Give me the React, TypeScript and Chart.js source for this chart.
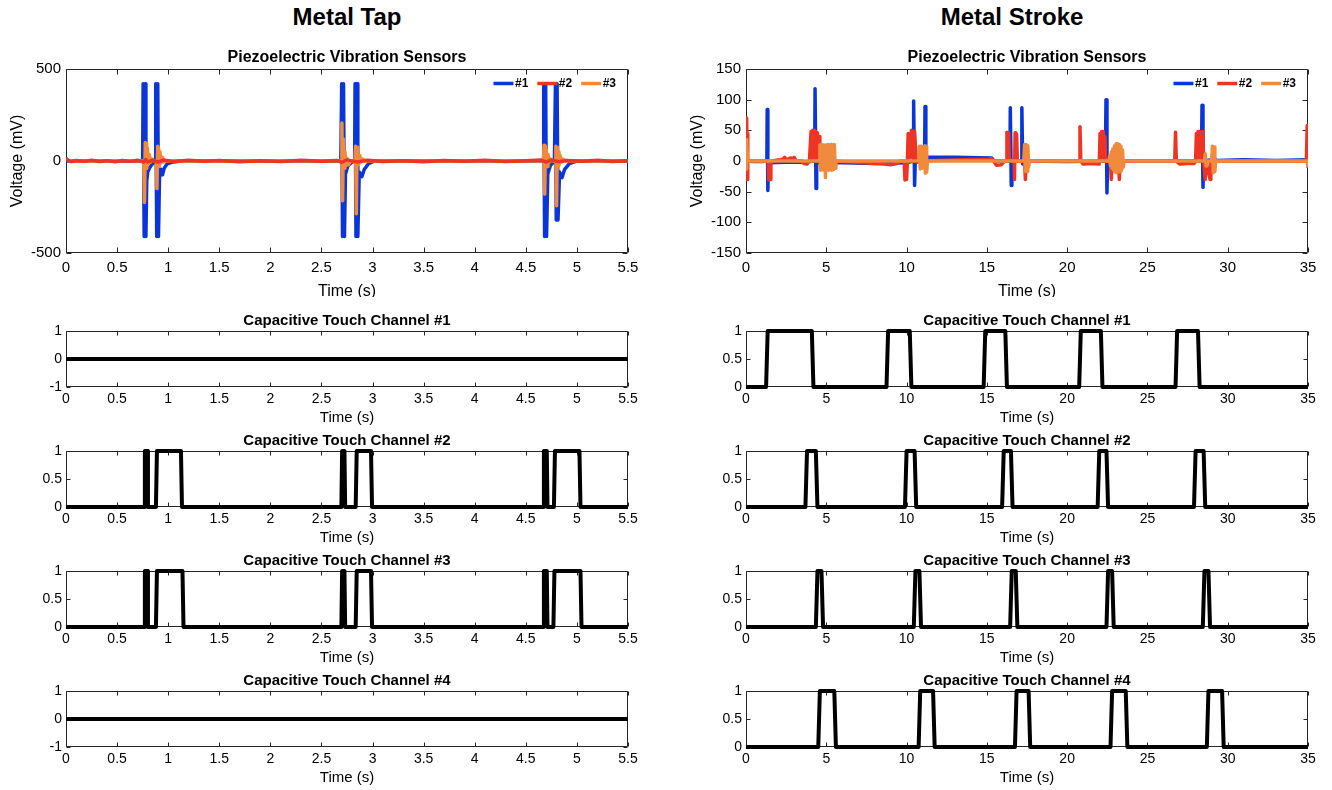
import React, { useEffect, useRef } from "react";
import { Chart, registerables } from "chart.js";

Chart.register(...registerables);

type Pt = [number, number];

const FAMILY = "'Liberation Sans', Arial, Helvetica, sans-serif";
const BLUE = "#0a36d8";
const RED = "#ee3424";
const ORANGE = "#f08a3c";
const BLACK = "#000000";

// ---------- tick labels ----------
const TAP_X_TICKS = [0, 0.5, 1, 1.5, 2, 2.5, 3, 3.5, 4, 4.5, 5, 5.5];
const STROKE_X_TICKS = [0, 5, 10, 15, 20, 25, 30, 35];
const TAP_PIEZO_Y_TICKS = [-500, 0, 500];
const STROKE_PIEZO_Y_TICKS = [-150, -100, -50, 0, 50, 100, 150];
const CAP_Y_TICKS_ACTIVE = [0, 0.5, 1];
const CAP_Y_TICKS_IDLE = [-1, 0, 1];

const SENSOR_LABELS = ["#1", "#2", "#3"];
const COLUMN_TITLES = ["Metal Tap", "Metal Stroke"];
const CAP_TITLES = [
  "Capacitive Touch Channel #1",
  "Capacitive Touch Channel #2",
  "Capacitive Touch Channel #3",
  "Capacitive Touch Channel #4",
];

// ---------- Metal Tap : piezo sensors (time s, mV) ----------
const TAP_PIEZO_1: Pt[] = [
  [0, 0], [0.3, 1], [0.6, -1], [0.75, 0], [0.755, 420], [0.765, -410], [0.775, 420], [0.782, -410],
  [0.79, -110], [0.8, -60], [0.82, -35], [0.85, -12], [0.875, 0], [0.878, 420], [0.888, -410],
  [0.898, 420], [0.905, -410], [0.915, -90], [0.93, -45], [0.945, -75], [0.96, -40], [0.99, -15],
  [1.05, -5], [1.12, 0], [1.5, 1], [2.0, -1], [2.69, 0], [2.698, 420], [2.706, -410], [2.716, 420],
  [2.725, -410], [2.735, -70], [2.76, -25], [2.8, -5], [2.825, 0], [2.829, 420], [2.838, -410],
  [2.848, 420], [2.856, -410], [2.87, -60], [2.895, -85], [2.92, -45], [2.96, -15], [3.02, 0],
  [3.5, 1], [4.0, -1], [4.67, 0], [4.675, 420], [4.684, -410], [4.694, 420], [4.703, -410],
  [4.715, -70], [4.74, -25], [4.78, 0], [4.79, 420], [4.798, -320], [4.806, 420], [4.815, -320],
  [4.83, -60], [4.855, -90], [4.88, -45], [4.93, -12], [5.0, 0], [5.5, 0],
];
const TAP_PIEZO_2: Pt[] = [
  [0, 14], [0.02, 4], [0.05, -3], [0.1, 3], [0.18, -2], [0.25, 4], [0.33, -3], [0.4, 2], [0.48, -4],
  [0.55, 3], [0.63, -2], [0.7, 4], [0.76, -6], [0.78, 8], [0.8, -5], [0.85, 4], [0.9, -6], [0.95, 5],
  [1.05, -3], [1.2, 4], [1.35, -2], [1.5, 3], [1.7, -4], [1.9, 2], [2.1, -3], [2.3, 4], [2.5, -2],
  [2.65, 3], [2.7, -7], [2.75, 6], [2.85, -5], [2.95, 4], [3.1, -3], [3.3, 2], [3.5, -4], [3.7, 3],
  [3.9, -2], [4.1, 4], [4.3, -3], [4.5, 2], [4.65, 5], [4.7, -6], [4.75, 6], [4.82, -4], [4.9, 3],
  [5.05, -2], [5.2, 4], [5.35, -3], [5.5, 2],
];
const TAP_PIEZO_3: Pt[] = [
  [0, 12], [0.03, 3], [0.1, 0], [0.5, 1], [0.76, 0], [0.768, -225], [0.776, 100], [0.784, 95],
  [0.79, -40], [0.797, 70], [0.805, -15], [0.815, 35], [0.83, -5], [0.845, 10], [0.86, 0],
  [0.885, 0], [0.89, -150], [0.897, 80], [0.905, 70], [0.912, -30], [0.92, 50], [0.93, -10],
  [0.945, 20], [0.96, -5], [0.98, 0], [2.0, 0], [2.693, 0], [2.7, 206], [2.707, -216], [2.714, 120],
  [2.722, -40], [2.73, 50], [2.74, -25], [2.75, 15], [2.765, -20], [2.78, -5], [2.8, 0], [2.828, 0],
  [2.834, 80], [2.841, -287], [2.848, 75], [2.856, 40], [2.864, -20], [2.875, 30], [2.89, -5],
  [2.905, 10], [2.93, 0], [4.0, 0], [4.672, 0], [4.678, 85], [4.685, -180], [4.692, 80], [4.7, 55],
  [4.708, -30], [4.717, 35], [4.73, -5], [4.745, 10], [4.76, 0], [4.788, 0], [4.794, 80],
  [4.801, -243], [4.808, 75], [4.816, 50], [4.824, -25], [4.835, 30], [4.85, -5], [4.865, 10],
  [4.89, 0], [5.5, 0],
];

// ---------- Metal Stroke : piezo sensors (time s, mV) ----------
const STROKE_PIEZO_1: Pt[] = [
  [0, 0], [0.5, -1], [1.0, -1], [1.3, 0], [1.32, 84], [1.36, -48], [1.4, -3], [2.5, -2], [3.5, -2],
  [4.28, 0], [4.3, 118], [4.36, -45], [4.4, -3], [6, -3], [8, -4], [10.0, -3], [10.42, 0],
  [10.44, 98], [10.5, -40], [10.54, -2], [11.12, 0], [11.15, 89], [11.2, 0], [11.26, 6], [13, 6],
  [15.3, 5], [15.45, 0], [16.44, 0], [16.46, 87], [16.52, -40], [16.56, 0], [17.15, 0], [17.18, 87],
  [17.23, -5], [17.3, 0], [20, -1], [22.38, 0], [22.42, 100], [22.48, -52], [22.52, 0], [26, 0],
  [28.36, 0], [28.4, 91], [28.46, -43], [28.5, 0], [29.2, 3], [29.3, 1], [31, 2], [33, 1], [35, 2],
];
const STROKE_PIEZO_2: Pt[] = [
  [0, 20], [0.02, 70], [0.04, -30], [0.06, 68], [0.08, -30], [0.1, 45], [0.12, 0], [1.2, 0],
  [1.38, 0], [1.42, -31], [1.46, -5], [1.5, -30], [1.55, -2], [1.6, 0], [2.3, 3], [2.4, 6],
  [2.5, 2], [2.8, 5], [2.9, 0], [3.0, 6], [3.1, 1], [3.5, 0], [3.6, -4], [3.8, -5], [3.95, 0],
  [4.05, 48], [4.1, 2], [4.15, 50], [4.2, 5], [4.25, 50], [4.3, 3], [4.35, 48], [4.4, 5],
  [4.45, 46], [4.5, 0], [4.55, 40], [4.6, 0], [5.5, 0], [8.6, -5], [9.0, -6], [9.4, -4], [9.6, 0],
  [9.85, 0], [9.9, -31], [9.95, -5], [10.0, -30], [10.05, 0], [10.1, 45], [10.2, 5], [10.3, 50],
  [10.4, 5], [10.5, 48], [10.6, 2], [10.7, 0], [14.8, 3], [15.0, 2], [15.3, 4], [15.6, -7],
  [15.9, -6], [16.1, 0], [16.2, 0], [16.25, 47], [16.3, 5], [16.35, 46], [16.4, 2], [16.7, 0],
  [16.72, -30], [16.76, 46], [16.8, 5], [16.85, 44], [16.9, 0], [17.35, 0], [17.4, -30], [17.45, 0],
  [20.75, 0], [20.8, 56], [20.85, 0], [21.0, -5], [21.5, -4], [22.0, -5], [22.05, 45], [22.1, 5],
  [22.15, 48], [22.2, 3], [22.25, 48], [22.3, 2], [22.35, 40], [22.4, 0], [22.7, 0], [22.75, -30],
  [22.8, 0], [23.2, 0], [23.25, -30], [23.3, 0], [26.7, 0], [26.75, 47], [26.8, 0], [27.0, -5],
  [27.5, -4], [27.9, -4], [28.0, 0], [28.05, 45], [28.1, 3], [28.15, 48], [28.2, 5], [28.25, 48],
  [28.3, 3], [28.35, 45], [28.4, 2], [28.45, 48], [28.5, 0], [28.6, -30], [28.65, 0], [28.9, -30],
  [28.95, 0], [34.9, 0], [34.95, 58], [35, -11],
];
const STROKE_PIEZO_3: Pt[] = [
  [0, 35], [0.03, -13], [0.06, 30], [0.1, 0], [4.55, 0], [4.6, 26], [4.65, -15], [4.7, 27],
  [4.75, -14], [4.8, 26], [4.85, -15], [4.9, 25], [4.95, -27], [5.0, 26], [5.05, -14], [5.1, 27],
  [5.15, -15], [5.2, 26], [5.25, -14], [5.3, 27], [5.35, -15], [5.4, 26], [5.45, -14], [5.5, 27],
  [5.55, -12], [5.6, 0], [10.75, 0], [10.8, 24], [10.85, -13], [10.9, 24], [10.95, -12], [11.0, 0],
  [11.1, 0], [11.13, 25], [11.17, -20], [11.21, 24], [11.25, -18], [11.3, 0], [17.3, 0], [17.35, 27],
  [17.4, -17], [17.45, 27], [17.5, -17], [17.55, 25], [17.6, -10], [17.65, 0], [22.6, 0], [22.65, 8],
  [22.7, -8], [22.75, 15], [22.8, -12], [22.85, 20], [22.9, -15], [22.95, 25], [23.0, -18],
  [23.05, 28], [23.1, -19], [23.15, 28], [23.2, -18], [23.25, 27], [23.3, -17], [23.35, 24],
  [23.4, -14], [23.45, 18], [23.5, -10], [23.55, 0], [28.55, 0], [28.6, 12], [28.65, -8], [28.7, 0],
  [29.0, 0], [29.05, 24], [29.1, -19], [29.15, 23], [29.2, -17], [29.25, 0], [34.95, 0], [35, -10],
];

// ---------- Capacitive touch channels (time s, state) ----------
const TAP_CAP_1: Pt[] = [[0, 0], [5.5, 0]];
const TAP_CAP_2: Pt[] = [
  [0, 0], [0.765, 0], [0.772, 1], [0.795, 1], [0.802, 0], [0.88, 0], [0.89, 1], [1.125, 1],
  [1.135, 0], [2.695, 0], [2.702, 1], [2.725, 1], [2.732, 0], [2.835, 0], [2.845, 1], [2.985, 1],
  [2.995, 0], [4.67, 0], [4.677, 1], [4.705, 1], [4.712, 0], [4.775, 0], [4.785, 1], [5.025, 1],
  [5.035, 0], [5.5, 0],
];
const TAP_CAP_3: Pt[] = [
  [0, 0], [0.765, 0], [0.772, 1], [0.795, 1], [0.802, 0], [0.88, 0], [0.89, 1], [1.14, 1],
  [1.15, 0], [2.695, 0], [2.702, 1], [2.725, 1], [2.732, 0], [2.835, 0], [2.845, 1], [2.985, 1],
  [2.995, 0], [4.67, 0], [4.677, 1], [4.705, 1], [4.712, 0], [4.77, 0], [4.78, 1], [5.035, 1],
  [5.045, 0], [5.5, 0],
];
const TAP_CAP_4: Pt[] = [[0, 0], [5.5, 0]];

const STROKE_CAP_1: Pt[] = [
  [0, 0], [1.25, 0], [1.35, 1], [4.1, 1], [4.2, 0], [8.75, 0], [8.85, 1], [10.2, 1], [10.3, 0],
  [14.8, 0], [14.9, 1], [16.15, 1], [16.25, 0], [20.75, 0], [20.85, 1], [22.1, 1], [22.2, 0],
  [26.75, 0], [26.85, 1], [28.15, 1], [28.25, 0], [35, 0],
];
const STROKE_CAP_2: Pt[] = [
  [0, 0], [3.7, 0], [3.8, 1], [4.35, 1], [4.45, 0], [9.9, 0], [10.0, 1], [10.5, 1], [10.6, 0],
  [15.95, 0], [16.05, 1], [16.5, 1], [16.6, 0], [21.9, 0], [22.0, 1], [22.45, 1], [22.55, 0],
  [27.9, 0], [28.0, 1], [28.5, 1], [28.6, 0], [35, 0],
];
const STROKE_CAP_3: Pt[] = [
  [0, 0], [4.35, 0], [4.45, 1], [4.7, 1], [4.8, 0], [10.45, 0], [10.55, 1], [10.8, 1], [10.9, 0],
  [16.45, 0], [16.55, 1], [16.8, 1], [16.9, 0], [22.45, 0], [22.55, 1], [22.8, 1], [22.9, 0],
  [28.45, 0], [28.55, 1], [28.8, 1], [28.9, 0], [35, 0],
];
const STROKE_CAP_4: Pt[] = [
  [0, 0], [4.5, 0], [4.6, 1], [5.5, 1], [5.6, 0], [10.75, 0], [10.85, 1], [11.65, 1], [11.75, 0],
  [16.75, 0], [16.85, 1], [17.6, 1], [17.7, 0], [22.7, 0], [22.8, 1], [23.65, 1], [23.75, 0],
  [28.7, 0], [28.8, 1], [29.65, 1], [29.75, 0], [35, 0],
];

// ---------- plugin: MATLAB-like box with inward ticks ----------
const boxTicks = {
  id: "boxTicks",
  beforeDatasetsDraw(chart: any, _args: any, opts: any) {
    const { ctx, chartArea: a, scales } = chart;
    const len = opts.len || 5;
    const L = Math.round(a.left) + 0.5;
    const R = Math.round(a.right) - 0.5;
    const T = Math.round(a.top) + 0.5;
    const B = Math.round(a.bottom) - 0.5;
    ctx.save();
    ctx.strokeStyle = "#262626";
    ctx.lineWidth = 1;
    ctx.beginPath();
    for (const t of scales.x.ticks) {
      const px = Math.round(scales.x.getPixelForValue(t.value)) + 0.5;
      ctx.moveTo(px, B);
      ctx.lineTo(px, B - len);
      ctx.moveTo(px, T);
      ctx.lineTo(px, T + len);
    }
    for (const t of scales.y.ticks) {
      const py = Math.round(scales.y.getPixelForValue(t.value)) + 0.5;
      ctx.moveTo(L, py);
      ctx.lineTo(L + len, py);
      ctx.moveTo(R, py);
      ctx.lineTo(R - len, py);
    }
    ctx.rect(L, T, R - L, B - T);
    ctx.stroke();
    ctx.restore();
  },
};

// ---------- plugin: legend drawn inside the top-right corner ----------
const insideLegend = {
  id: "insideLegend",
  afterDatasetsDraw(chart: any, _args: any, opts: any) {
    if (!opts || !opts.show) return;
    const { ctx, chartArea: a } = chart;
    const ds = chart.data.datasets;
    ctx.save();
    ctx.font = `bold 12px ${FAMILY}`;
    ctx.textBaseline = "middle";
    ctx.textAlign = "left";
    const y = a.top + 14.5;
    let x = a.right - 12;
    for (let i = ds.length - 1; i >= 0; i--) {
      const label = String(ds[i].label);
      const tw = ctx.measureText(label).width;
      x -= tw;
      ctx.fillStyle = BLACK;
      ctx.fillText(label, x, y);
      x -= 1.5;
      ctx.strokeStyle = ds[i].borderColor;
      ctx.lineWidth = 3.5;
      ctx.lineCap = "butt";
      ctx.beginPath();
      ctx.moveTo(x - 20, y);
      ctx.lineTo(x, y);
      ctx.stroke();
      x -= 20 + 9;
    }
    ctx.restore();
  },
};

type Series = { label: string; data: Pt[]; color: string; width: number; order: number; clip?: number };
type FontSpec = { size: number; weight?: string };

interface PanelCfg {
  key: string;
  plotLeft: number; plotRight: number; plotTop: number; plotBottom: number;
  canvasLeft: number; canvasTop: number; canvasBottom: number; padRight: number;
  title: string; titleFont: FontSpec; titleCenterY: number;
  xMin: number; xMax: number; xTicks: number[];
  yMin: number; yMax: number; yTicks: number[];
  tickFont: FontSpec; xLabelCenterY: number; yLabelPad: number; tickLen: number;
  xTitle: string; xTitleFont: FontSpec; xTitleCenterY: number;
  yTitle?: string; yTitleFont?: FontSpec; yTitleCenterX?: number;
  series: Series[];
  legend: boolean;
}

const f = (s: FontSpec) => ({ family: FAMILY, size: s.size, weight: s.weight || "normal", lineHeight: 1.2 });

function buildConfig(p: PanelCfg): any {
  const YW = p.plotLeft - p.canvasLeft;
  const XH = p.canvasBottom - p.plotBottom;
  const tlh = p.titleFont.size * 1.2;
  const titlePadTop = p.titleCenterY - tlh / 2 - p.canvasTop;
  const titlePadBottom = p.plotTop - p.titleCenterY - tlh / 2;
  const xlh = p.xTitleFont.size * 1.2;
  const xTitlePadBottom = p.canvasBottom - p.xTitleCenterY - xlh / 2;
  const tickLh = p.tickFont.size * 1.2;
  const xLabelPad = p.xLabelCenterY - p.plotBottom - tickLh / 2;
  let yTitle: any = { display: false };
  if (p.yTitle && p.yTitleFont && p.yTitleCenterX !== undefined) {
    const ylh = p.yTitleFont.size * 1.2;
    yTitle = {
      display: true,
      text: p.yTitle,
      color: BLACK,
      font: f(p.yTitleFont),
      padding: { top: p.yTitleCenterX - p.canvasLeft - ylh / 2, bottom: 0 },
    };
  }
  return {
    type: "line",
    data: {
      datasets: p.series.map((s) => {
        const d: any = {
          label: s.label,
          data: s.data.map(([x, y]) => ({ x, y })),
          borderColor: s.color,
          backgroundColor: s.color,
          borderWidth: s.width,
          borderJoinStyle: "round",
          pointRadius: 0,
          pointHoverRadius: 0,
          tension: 0,
          order: s.order,
        };
        if (s.clip !== undefined) d.clip = s.clip;
        return d;
      }),
    },
    options: {
      responsive: false,
      animation: false,
      events: [],
      layout: { padding: { left: 0, top: 0, right: p.padRight, bottom: 0 } },
      plugins: {
        title: {
          display: true,
          text: p.title,
          fullSize: false,
          color: BLACK,
          font: f(p.titleFont),
          padding: { top: titlePadTop, bottom: titlePadBottom },
        },
        legend: { display: false },
        tooltip: { enabled: false },
        boxTicks: { len: p.tickLen },
        insideLegend: { show: p.legend },
      },
      scales: {
        x: {
          type: "linear",
          bounds: "data",
          min: p.xMin,
          max: p.xMax,
          afterBuildTicks: (s: any) => {
            s.ticks = p.xTicks.map((v) => ({ value: v }));
          },
          afterFit: (s: any) => {
            s.height = XH;
          },
          grid: { display: false, drawTicks: false },
          border: { display: false },
          ticks: {
            autoSkip: false,
            maxRotation: 0,
            minRotation: 0,
            padding: xLabelPad,
            color: BLACK,
            font: f(p.tickFont),
            callback: (v: number) => String(v),
          },
          title: {
            display: true,
            text: p.xTitle,
            color: BLACK,
            font: f(p.xTitleFont),
            padding: { top: 0, bottom: xTitlePadBottom },
          },
        },
        y: {
          type: "linear",
          bounds: "data",
          min: p.yMin,
          max: p.yMax,
          afterBuildTicks: (s: any) => {
            s.ticks = p.yTicks.map((v) => ({ value: v }));
          },
          afterFit: (s: any) => {
            s.width = YW;
          },
          grid: { display: false, drawTicks: false },
          border: { display: false },
          ticks: {
            autoSkip: false,
            padding: p.yLabelPad,
            color: BLACK,
            font: f(p.tickFont),
            callback: (v: number) => String(v),
          },
          title: yTitle,
        },
      },
    },
    plugins: [boxTicks, insideLegend],
  };
}

function Panel({ cfg }: { cfg: PanelCfg }) {
  const ref = useRef<HTMLCanvasElement>(null);
  const W = cfg.plotRight + cfg.padRight - cfg.canvasLeft;
  const H = cfg.canvasBottom - cfg.canvasTop;
  useEffect(() => {
    if (!ref.current) return;
    const chart = new Chart(ref.current, buildConfig(cfg));
    return () => chart.destroy();
  }, []);
  return (
    <canvas
      ref={ref}
      width={W}
      height={H}
      style={{ position: "absolute", left: cfg.canvasLeft, top: cfg.canvasTop, width: W, height: H }}
    />
  );
}

// ---------- layout ----------
const COLS = [
  { plotLeft: 66, plotRight: 628, canvasLeft: 0, padRight: 24, titleX: 347, yTitleX: 18 },
  { plotLeft: 746, plotRight: 1308, canvasLeft: 680, padRight: 20, titleX: 1012, yTitleX: 697.5 },
];
const CAP_TOPS = [331, 451, 571, 691];
const CAP_BOTTOMS = [387, 507, 627, 747];

function piezoPanel(col: number): PanelCfg {
  const c = COLS[col];
  const tap = col === 0;
  const data = tap ? [TAP_PIEZO_1, TAP_PIEZO_2, TAP_PIEZO_3] : [STROKE_PIEZO_1, STROKE_PIEZO_2, STROKE_PIEZO_3];
  const colors = [BLUE, RED, ORANGE];
  // drawing order (lower = on top)
  const orders = tap ? [3, 1, 2] : [3, 2, 1];
  return {
    key: "piezo" + col,
    plotLeft: c.plotLeft, plotRight: c.plotRight, plotTop: 69, plotBottom: 253,
    canvasLeft: c.canvasLeft, canvasTop: 46, canvasBottom: 297, padRight: c.padRight,
    title: "Piezoelectric Vibration Sensors", titleFont: { size: 16, weight: "bold" }, titleCenterY: 58,
    xMin: 0, xMax: tap ? 5.5 : 35, xTicks: tap ? TAP_X_TICKS : STROKE_X_TICKS,
    yMin: tap ? -500 : -150, yMax: tap ? 500 : 150, yTicks: tap ? TAP_PIEZO_Y_TICKS : STROKE_PIEZO_Y_TICKS,
    tickFont: { size: 15 }, xLabelCenterY: 267.5, yLabelPad: 5, tickLen: 5,
    xTitle: "Time (s)", xTitleFont: { size: 16 }, xTitleCenterY: 291.5,
    yTitle: "Voltage (mV)", yTitleFont: { size: 16 }, yTitleCenterX: c.yTitleX,
    series: data.map((d, i) => ({ label: SENSOR_LABELS[i], data: d, color: colors[i], width: 3.5, order: orders[i] })),
    legend: true,
  };
}

function capPanel(col: number, ch: number): PanelCfg {
  const c = COLS[col];
  const tap = col === 0;
  const data = tap
    ? [TAP_CAP_1, TAP_CAP_2, TAP_CAP_3, TAP_CAP_4][ch]
    : [STROKE_CAP_1, STROKE_CAP_2, STROKE_CAP_3, STROKE_CAP_4][ch];
  const idle = tap && (ch === 0 || ch === 3);
  const top = CAP_TOPS[ch];
  const bottom = CAP_BOTTOMS[ch];
  const titleCenterY = top - 10.5;
  return {
    key: "cap" + col + ch,
    plotLeft: c.plotLeft, plotRight: c.plotRight, plotTop: top, plotBottom: bottom,
    canvasLeft: c.plotLeft - 60, canvasTop: Math.floor(titleCenterY - 11), canvasBottom: bottom + 40,
    padRight: c.padRight,
    title: CAP_TITLES[ch], titleFont: { size: 15, weight: "bold" }, titleCenterY,
    xMin: 0, xMax: tap ? 5.5 : 35, xTicks: tap ? TAP_X_TICKS : STROKE_X_TICKS,
    yMin: idle ? -1 : 0, yMax: 1, yTicks: idle ? CAP_Y_TICKS_IDLE : CAP_Y_TICKS_ACTIVE,
    tickFont: { size: 14 }, xLabelCenterY: bottom + 12.5, yLabelPad: 4, tickLen: 4,
    xTitle: "Time (s)", xTitleFont: { size: 15 }, xTitleCenterY: bottom + 30.5,
    series: [{ label: CAP_TITLES[ch], data, color: BLACK, width: 4, order: 0, clip: 3 }],
    legend: false,
  };
}

const PANELS: PanelCfg[] = [
  piezoPanel(0),
  piezoPanel(1),
  ...[0, 1, 2, 3].map((ch) => capPanel(0, ch)),
  ...[0, 1, 2, 3].map((ch) => capPanel(1, ch)),
];

export default function App() {
  return (
    <div style={{ position: "absolute", left: 0, top: 0, width: 1332, height: 790, background: "#fff", overflow: "hidden" }}>
      {COLUMN_TITLES.map((t, i) => (
        <div
          key={t}
          style={{
            position: "absolute",
            left: COLS[i].titleX - 200,
            width: 400,
            top: 5,
            textAlign: "center",
            fontFamily: FAMILY,
            fontWeight: "bold",
            fontSize: 24,
            lineHeight: "24px",
            color: BLACK,
          }}
        >
          {t}
        </div>
      ))}
      {PANELS.map((p) => (
        <Panel key={p.key} cfg={p} />
      ))}
    </div>
  );
}
